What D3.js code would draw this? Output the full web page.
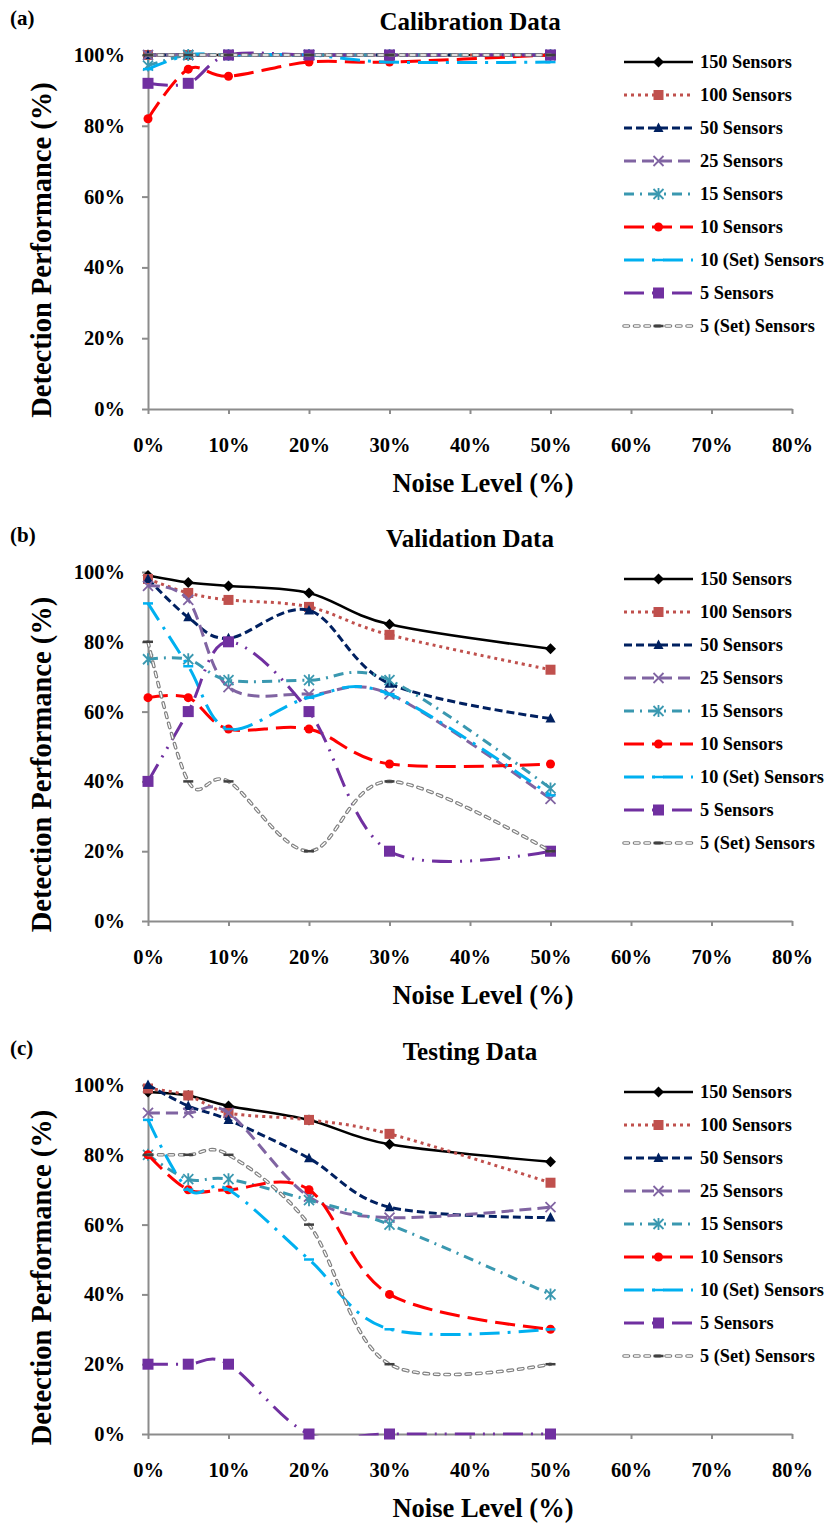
<!DOCTYPE html>
<html>
<head>
<meta charset="utf-8">
<script src="https://cdn.jsdelivr.net/npm/d3@7"></script>
<style>
    body { margin: 0; background: #fff; }
    svg text { font-family: "Liberation Serif", Tinos, "Times New Roman", Times, "DejaVu Serif", serif !important; font-weight: bold; fill: #000; }
</style>
</head>
<body>
<div class="canvas"></div>
<script>
// noise levels the detection rate was measured at (%)
const noiseLevels = [0, 5, 10, 20, 30, 50];

const seriesNames = ['150 Sensors', '100 Sensors', '50 Sensors', '25 Sensors', '15 Sensors',
    '10 Sensors', '10 (Set) Sensors', '5 Sensors', '5 (Set) Sensors'];

const xTicks = [0, 10, 20, 30, 40, 50, 60, 70, 80];
const yTicks = [0, 20, 40, 60, 80, 100];

const panelLabels = ['(a)', '(b)', '(c)'];
const panelTitles = ['Calibration Data', 'Validation Data', 'Testing Data'];

// detection performance (%) - one row per series, same order as seriesNames
const calibration = [
    [100, 100, 100, 100, 100, 100],
    [100, 100, 100, 100, 100, 100],
    [100, 100, 100, 100, 100, 100],
    [100, 100, 100, 100, 100, 100],
    [97, 100, 100, 100, 100, 100],
    [82, 96, 94, 98, 98, 100],
    [96, 100, 100, 100, 98, 98],
    [92, 92, 100, 100, 100, 100],
    [100, 100, 100, 100, 100, 100]
];
const validation = [
    [99, 97, 96, 94, 85, 78],
    [98, 94, 92, 90, 82, 72],
    [98, 87, 81, 89, 68, 58],
    [96, 92, 67, 65, 65, 35],
    [75, 75, 69, 69, 69, 38],
    [64, 64, 55, 55, 45, 45],
    [91, 73, 55, 64, 65, 36],
    [40, 60, 80, 60, 20, 20],
    [80, 40, 40, 20, 40, 20]
];
const testing = [
    [98, 97, 94, 90, 83, 78],
    [99, 97, 92, 90, 86, 72],
    [100, 94, 90, 79, 65, 62],
    [92, 92, 92, 68, 62, 65],
    [80, 73, 73, 67, 60, 40],
    [80, 70, 70, 70, 40, 30],
    [90, 70, 70, 50, 30, 30],
    [20, 20, 20, 0, 0, 0],
    [80, 80, 80, 60, 20, 20]
];
const panelData = [calibration, validation, testing];

// series styling (Excel-ish defaults)
const colors = ['#000000', '#C0504D', '#002060', '#8064A2', '#3A98B0', '#FF0000', '#00B0F0', '#7030A0', '#808080'];
const dashes = [null, '3 4', '8 4', '12 6', '10 6 2 6', '20 8', '20 8 3 8', '20 8 2 8 2 8', '4.5 6'];
const markers = ['diamond', 'square', 'triangle', 'x', 'asterisk', 'circle', 'dash', 'bigsquare', 'darkdash'];

const serif = '"Liberation Serif", Tinos, "Times New Roman", Times, "DejaVu Serif", serif';

// layout
const W = 828, H = 1526;
const panelTops = [55, 572, 1085];
const panelBottoms = [409, 921, 1434];
const plotLeft = 148, plotRight = 792;

const svg = d3.select('.canvas')
    .append('svg')
    .attr('width', W)
    .attr('height', H)
    .attr('font-family', serif);

const x = d3.scaleLinear().domain([0, 80]).range([plotLeft, plotRight]);

const line = d3.line()
    .x((d, i) => x(noiseLevels[i]))
    .curve(d3.curveCardinal.tension(0));

// draws one marker shape into a group centred at 0,0
const addMarker = (g, type, color) => {
    switch (type) {
        case 'diamond':
            g.append('path').attr('d', 'M0,-5.5L5.5,0L0,5.5L-5.5,0Z').attr('fill', color);
            break;
        case 'square':
            g.append('rect').attr('x', -5).attr('y', -5).attr('width', 10).attr('height', 10).attr('fill', color);
            break;
        case 'bigsquare':
            g.append('rect').attr('x', -5.5).attr('y', -5.5).attr('width', 11).attr('height', 11).attr('fill', color);
            break;
        case 'triangle':
            g.append('path').attr('d', 'M0,-5.5L5,4L-5,4Z').attr('fill', color);
            break;
        case 'x':
            g.append('path').attr('d', 'M-5,-5L5,5M-5,5L5,-5').attr('stroke', color).attr('stroke-width', 1.8).attr('fill', 'none');
            break;
        case 'asterisk':
            g.append('path').attr('d', 'M-5,-5L5,5M-5,5L5,-5M0,-6L0,6').attr('stroke', color).attr('stroke-width', 1.8).attr('fill', 'none');
            break;
        case 'circle':
            g.append('circle').attr('r', 4.5).attr('fill', color);
            break;
        case 'dash':
            g.append('path').attr('d', 'M-5,0L5,0').attr('stroke', color).attr('stroke-width', 2.5);
            break;
        case 'darkdash':
            g.append('path').attr('d', 'M-5,0L5,0').attr('stroke', '#404040').attr('stroke-width', 2.5);
            break;
    }
};

// a series line; the "Set" 5-sensor line is a grey double (outlined) dashed line
const addLine = (g, pathD, i) => {
    if (i === 8) {
        g.append('path').attr('d', pathD).attr('fill', 'none')
            .attr('stroke', colors[i]).attr('stroke-width', 3.6)
            .attr('stroke-dasharray', dashes[i]).attr('stroke-linecap', 'round');
        g.append('path').attr('d', pathD).attr('fill', 'none')
            .attr('stroke', '#fff').attr('stroke-width', 1.3)
            .attr('stroke-dasharray', dashes[i]).attr('stroke-linecap', 'round');
    } else {
        g.append('path').attr('d', pathD).attr('fill', 'none')
            .attr('stroke', colors[i]).attr('stroke-width', i === 0 ? 2.6 : 3)
            .attr('stroke-dasharray', dashes[i]);
    }
};

panelData.forEach((rows, p) => {
    const top = panelTops[p], bottom = panelBottoms[p];
    const y = d3.scaleLinear().domain([0, 100]).range([bottom, top]);
    line.y(d => y(d));

    const panel = svg.append('g');

    // lines are clipped just below the x axis like Excel does
    svg.append('clipPath').attr('id', 'clip' + p)
        .append('rect')
        .attr('x', 0).attr('y', top - 20)
        .attr('width', W).attr('height', bottom - top + 21.5);

    // axes
    const xAxis = panel.append('g')
        .attr('transform', `translate(0, ${bottom})`)
        .call(d3.axisBottom(x).tickValues(xTicks).tickSize(5).tickSizeOuter(0)
            .tickPadding(23).tickFormat(d => d + '%'));
    const yAxis = panel.append('g')
        .attr('transform', `translate(${plotLeft}, 0)`)
        .call(d3.axisLeft(y).tickValues(yTicks).tickSize(6).tickSizeOuter(0)
            .tickPadding(17).tickFormat(d => d + '%'));
    [xAxis, yAxis].forEach(a => {
        a.attr('font-family', serif);
        a.select('.domain').attr('stroke', '#8c8c8c').attr('stroke-width', 2);
        a.selectAll('.tick line').attr('stroke', '#8c8c8c').attr('stroke-width', 2);
        a.selectAll('.tick text')
            .attr('font-weight', 'bold')
            .attr('font-size', 20.5)
            .attr('fill', '#000');
    });

    // series, drawn in legend order (later ones on top)
    rows.forEach((vals, i) => {
        const sg = panel.append('g');
        addLine(sg.append('g').attr('clip-path', `url(#clip${p})`), line(vals), i);
        sg.selectAll('g.mk')
            .data(vals)
            .join('g')
            .attr('class', 'mk')
            .attr('transform', (d, k) => `translate(${x(noiseLevels[k])}, ${y(d)})`)
            .each(function () { addMarker(d3.select(this), markers[i], colors[i]); });
    });

    // legend
    const legend = panel.append('g')
        .attr('transform', `translate(624, ${top + 7})`);
    seriesNames.forEach((name, i) => {
        const row = legend.append('g').attr('transform', `translate(0, ${i * 33})`);
        addLine(row, 'M0,0L69,0', i);
        addMarker(row.append('g').attr('transform', 'translate(34.5, 0)'), markers[i], colors[i]);
        row.append('text')
            .attr('x', 76)
            .attr('y', 6)
            .attr('font-size', 18.3)
            .text(name);
    });

    // texts
    panel.append('text')
        .attr('x', 10).attr('y', top - 30)
        .attr('font-size', 21)
        .text(panelLabels[p]);
    panel.append('text')
        .attr('x', 470).attr('y', top - 25)
        .attr('text-anchor', 'middle')
        .attr('font-size', 25)
        .text(panelTitles[p]);
    panel.append('text')
        .attr('x', 483).attr('y', bottom + 83)
        .attr('text-anchor', 'middle')
        .attr('font-size', 26.5)
        .text('Noise Level (%)');
    panel.append('text')
        .attr('transform', `translate(51, ${(top + bottom) / 2 + 18}) rotate(-90)`)
        .attr('text-anchor', 'middle')
        .attr('font-size', 28.5)
        .text('Detection Performance (%)');
});
</script>
</body>
</html>
